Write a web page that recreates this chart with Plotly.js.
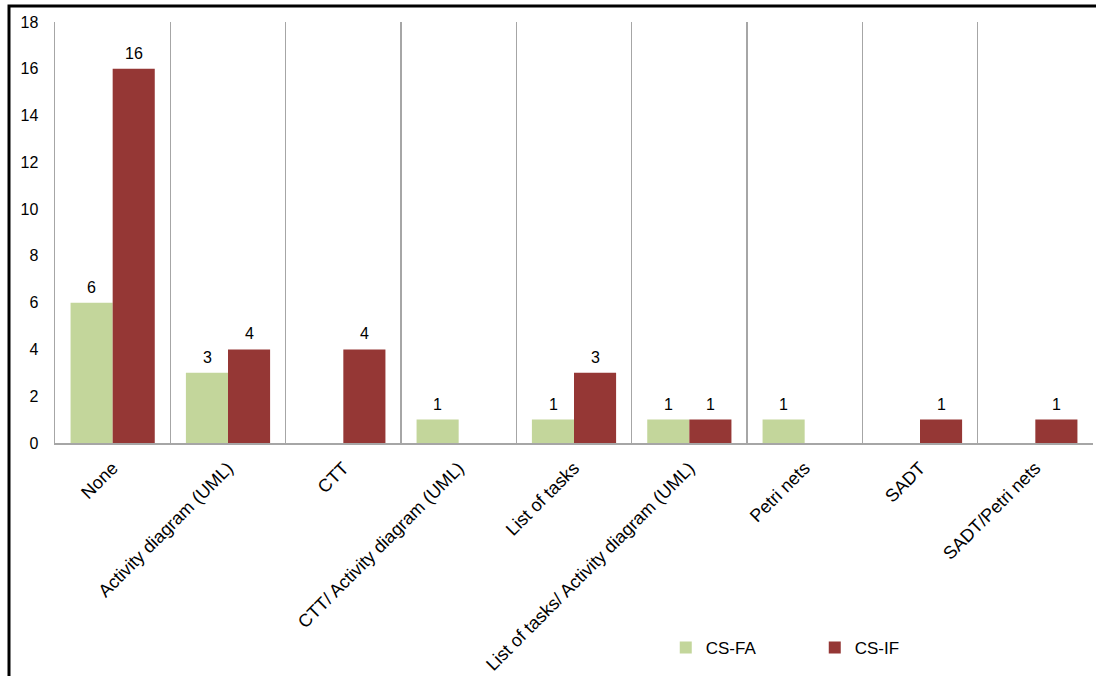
<!DOCTYPE html>
<html>
<head>
<meta charset="utf-8">
<script src="https://cdn.plot.ly/plotly-3.0.1.min.js"></script>
<style>html,body{margin:0;padding:0;background:#fff;}#chart{width:1096px;height:676px;}</style>
</head>
<body>
<div id="chart"></div>
<script>
const categories = ["None", "Activity diagram (UML)", "CTT", "CTT/ Activity diagram (UML)", "List of tasks", "List of tasks/ Activity diagram (UML)", "Petri nets", "SADT", "SADT/Petri nets"];
const seriesNames = ["CS-FA", "CS-IF"];
const csFA = [6, 3, null, 1, 1, 1, 1, null, null];
const csIF = [16, 4, 4, null, 3, 1, null, 1, 1];
const yTicks = [0, 2, 4, 6, 8, 10, 12, 14, 16, 18];

const colors = ["#c3d69b", "#953735"];
const font = "Liberation Sans, Arial, sans-serif";

const traces = [csFA, csIF].map((vals, i) => ({
  type: "bar",
  name: seriesNames[i],
  x: categories,
  y: vals,
  marker: {color: colors[i]},
  hoverinfo: "skip"
}));

const annotations = [];
[csFA, csIF].forEach((vals, i) => {
  vals.forEach((v, j) => {
    if (v === null) return;
    annotations.push({
      x: categories[j], y: v, xref: "x", yref: "y",
      text: String(v), showarrow: false,
      xshift: i === 0 ? -21 : 21, yshift: 5, yanchor: "bottom",
      font: {family: font, size: 16, color: "#000"}
    });
  });
});

const layout = {
  width: 1096, height: 676,
  margin: {l: 55, r: 3, t: 22, b: 233},
  paper_bgcolor: "#fff", plot_bgcolor: "#fff",
  showlegend: true,
  barmode: "group", bargap: 0.27, bargroupgap: 0,
  font: {family: font, color: "#000"},
  xaxis: {
    type: "category", range: [-0.5, categories.length - 0.5],
    tickson: "boundaries", showgrid: true, gridcolor: "#a6a6a6", gridwidth: 1.5,
    showline: true, linecolor: "#a6a6a6", linewidth: 1.5,
    ticks: "", tickangle: -45, ticklabelstandoff: 6,
    tickfont: {family: font, size: 18, color: "#000"},
    zeroline: false, fixedrange: true
  },
  yaxis: {
    range: [0, 18], tickvals: yTicks, ticktext: yTicks.map(String),
    showgrid: false, zeroline: false,
    showline: true, linecolor: "#a6a6a6", linewidth: 1.5,
    ticks: "", ticklabelstandoff: 12,
    tickfont: {family: font, size: 16, color: "#000"}, fixedrange: true
  },
  legend: {
    orientation: "h", x: 0.5884, xanchor: "left", y: -0.487, yanchor: "middle",
    font: {family: font, size: 17, color: "#000"},
    entrywidth: 104, entrywidthmode: "pixels", itemwidth: 30,
    bgcolor: "rgba(0,0,0,0)"
  },
  annotations: annotations,
  shapes: [{
    type: "rect", xref: "paper", yref: "paper",
    x0: (9 - 55) / 1038, x1: 1.1, y0: -1.0, y1: 1 + (22 - 6) / 421,
    line: {color: "#000", width: 3}, fillcolor: "rgba(0,0,0,0)", layer: "above"
  }]
};

Plotly.newPlot("chart", traces, layout, {displayModeBar: false, staticPlot: true});
</script>
</body>
</html>
